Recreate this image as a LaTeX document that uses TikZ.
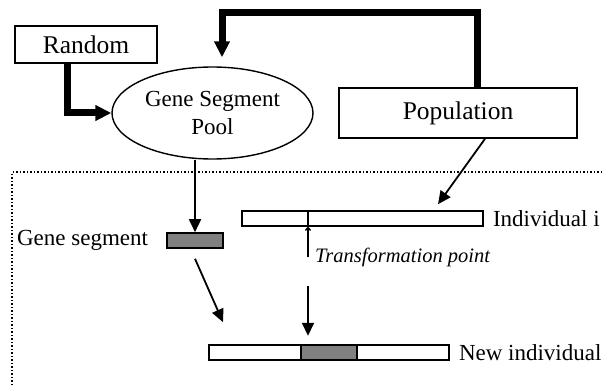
\documentclass[tikz,border=0pt]{standalone}
\usepackage{fontspec}
\setmainfont{Liberation Serif}
\usetikzlibrary{arrows.meta, positioning, shapes.geometric}

\definecolor{segment gray}{RGB}{128,128,128}

\begin{document}
\begin{tikzpicture}[%
        x = 1pt, y = -1pt,
        my box/.style = {%
          draw = black,
          line width = 1.6pt,
          inner sep = 0pt,
          font = \fontsize{25.5}{28}\selectfont,
        },
        my bar/.style = {%
          draw = black,
          line width = 1.6pt,
          inner sep = 0pt,
          minimum height = 15pt,
        },
        my label/.style = {%
          inner sep = 0pt,
          font = \fontsize{23}{28}\selectfont,
        },
        fat arrow/.style = {%
          line width = 7pt,
          -{Triangle[length=16pt,width=15pt]},
        },
        thin arrow/.style = {%
          line width = 1.8pt,
          -{Triangle[length=13pt,width=12pt]},
        },
        node distance = 9pt,
      ]
      \useasboundingbox (0,0) rectangle (602,385);

      \node[my box, minimum width=142pt, minimum height=37pt] (rnd) at (86,44.5) {Random};
      \node[my box, ellipse, line width=1.4pt, minimum width=201pt, minimum height=92pt,
            align=center, font=\fontsize{23}{28}\selectfont] (pool) at (212.5,113) {Gene Segment\\Pool};
      \node[my box, minimum width=238pt, minimum height=50pt] (pop) at (458,113) {Population};

      \draw[dotted, line width=1.5pt] (12,385) -- (12,172) -- (602,172);

      \node[my bar, fill=segment gray, minimum width=56pt] (gseg) at (195,240.5) {};
      \node[my label, left=18pt of gseg] (gseglabel) {Gene segment};
      \node[my bar, minimum width=241pt] (ibar) at (362.5,218.5) {};
      \node[my label, right=of ibar] (ilabel) {Individual i};
      \node[my bar, minimum width=240pt] (nbar) at (329,352.5) {};
      \node[my bar, fill=segment gray, minimum width=56pt] (nseg) at (329,352.5) {};
      \node[my label, right=of nbar] (nlabel) {New individual};

      \coordinate (tp) at ([xshift=-54.5pt]ibar.south);
      \coordinate (tpend) at (308,257);
      \node[my label, font=\fontsize{20.5}{24}\selectfont\itshape, right=7pt of tpend] (tplabel) {Transformation point};
      \draw[line width=1.6pt] (tp) -- (tp |- ibar.north);
      \draw[line width=1.4pt, -{To[length=4pt,width=6pt]}] (tpend) -- (tp);

      \draw[fat arrow] ([xshift=-19pt]rnd.south) |- (pool.west);
      \draw[fat arrow] ([xshift=19pt]pop.north) -- ++(0,-75) -| ([xshift=9.5pt,yshift=9pt]pool.north);

      \draw[thin arrow] (pool.south -| gseg.north) -- (gseg.north);
      \draw[thin arrow] ([xshift=27pt]pop.south) -- ([xshift=75.5pt,yshift=6pt]ibar.north);
      \draw[thin arrow] ([yshift=-10pt]gseg.south) -- ([xshift=-106pt,yshift=22pt]nbar.north);
      \draw[thin arrow] ([yshift=-59pt]tp) -- ([yshift=-109pt]tp);
    \end{tikzpicture}
\end{document}
